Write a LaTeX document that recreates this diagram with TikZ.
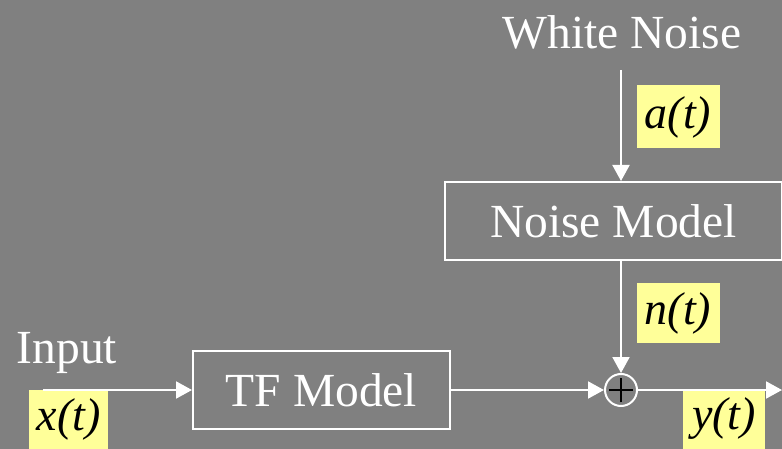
\documentclass[tikz,border=0pt]{standalone}
\usepackage{fontspec}
\setmainfont{Liberation Serif}
\usetikzlibrary{arrows.meta}
\definecolor{bg}{HTML}{808080}
\definecolor{note}{HTML}{FFFF99}
\begin{document}
\begin{tikzpicture}[x=1pt,y=-1pt,
  lbl/.style={text=white,font=\fontsize{47.5}{50}\selectfont,inner sep=0pt},
  block/.style={draw=white,line width=2pt,text=white,font=\fontsize{47.5}{50}\selectfont,inner sep=0pt},
  sig/.style={fill=note,text=black,font=\fontsize{46}{48}\selectfont\itshape,inner sep=0pt},
  flow/.style={draw=white,line width=2pt,-{Triangle[length=16pt,width=17pt]}},
  sumnode/.style={circle,draw=white,fill=bg,line width=2pt,minimum size=32pt,inner sep=0pt}]
\fill[bg] (0,0) rectangle (782,449);
\useasboundingbox (0,0) rectangle (782,449);

% labels and signal tags
\node[lbl] (wn) at (622,32) {White Noise};
\node[lbl] (inp) at (67,353) {Input};
\node[sig,minimum width=83pt,minimum height=63pt] (at) at (678,117) {a(t)};
\node[sig,minimum width=83pt,minimum height=60pt] (nt) at (678,313) {n(t)};
\node[sig,minimum width=79pt,minimum height=59pt] (xt) at (68.5,419.5) {x(t)};
\node[sig,minimum width=82pt,minimum height=60pt] (yt) at (724,419) {y(t)};

% blocks
\node[block,minimum width=337pt,minimum height=78pt] (nm) at (613.5,221) {Noise Model};
\node[block,minimum width=257pt,minimum height=78pt] (tf) at (321.5,390) {TF Model};
\node[sumnode] (sum) at (621,390) {};
\draw[black,line width=2.4pt] ([xshift=-12pt]sum.center) -- ([xshift=12pt]sum.center)
  ([yshift=-12pt]sum.center) -- ([yshift=12pt]sum.center);

% free line ends
\coordinate (src) at (621,70);
\coordinate (xin) at (43,390);
\coordinate (yout) at (782,390);

% connectors
\draw[flow] (src) -- (src |- nm.north);
\draw[flow] (nm.south -| sum) -- (sum.north);
\draw[flow] (xin) -- (tf.west);
\draw[flow] (tf.east) -- (sum.west);
\draw[flow] (sum.east) -- (yout);
\end{tikzpicture}
\end{document}
